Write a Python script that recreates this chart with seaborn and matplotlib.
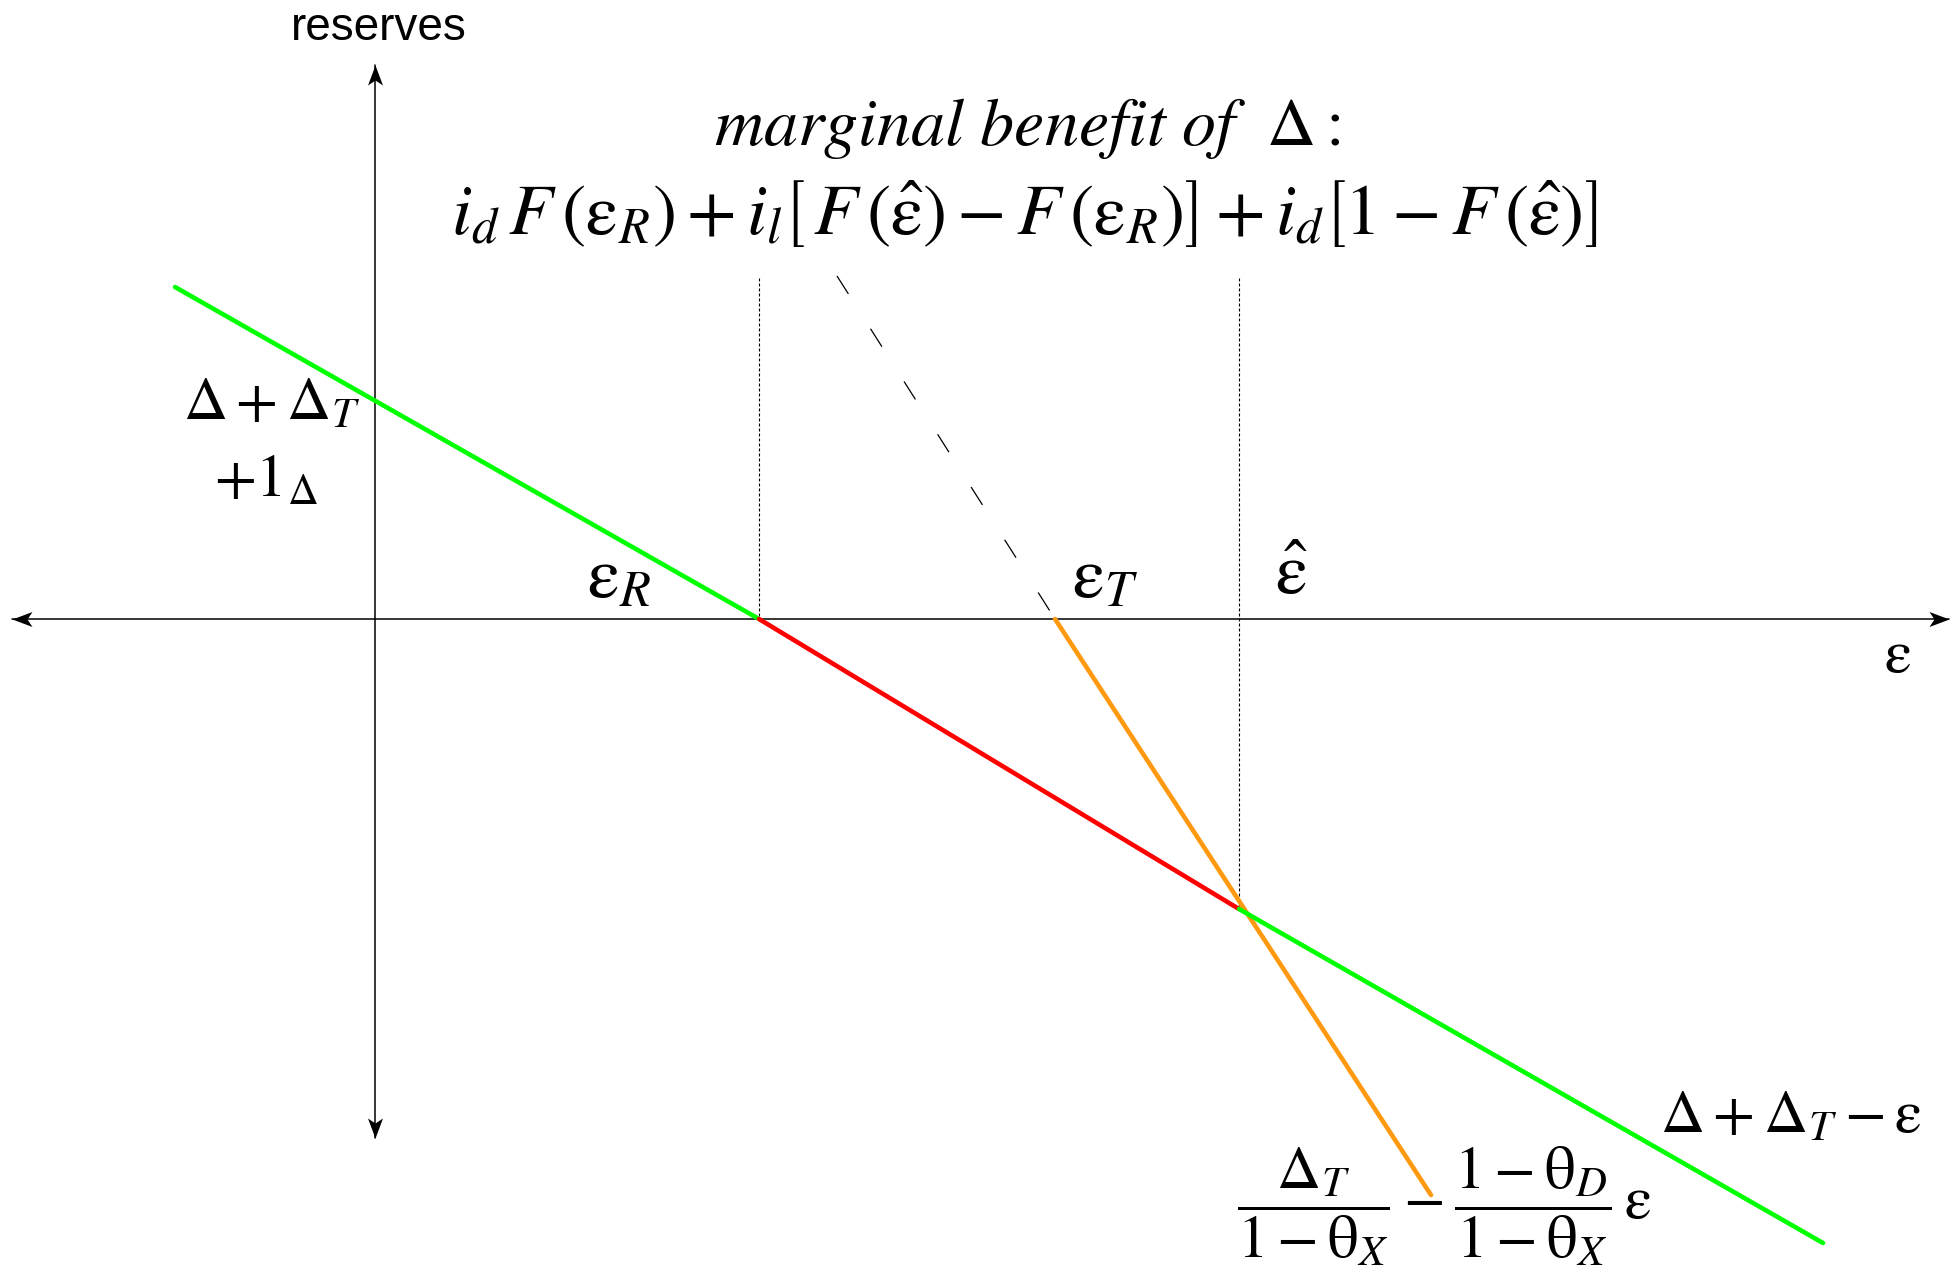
import matplotlib
matplotlib.use("Agg")
import matplotlib.pyplot as plt
from matplotlib.markers import MarkerStyle
from matplotlib.transforms import Affine2D
import pandas as pd
import seaborn as sns

# threshold shocks on the epsilon axis
eps_R = 3.84
eps_T = 6.80
eps_hat = 8.64

# reserves schedule, broken at eps_R and eps_hat
sched_eps = [-2.00, eps_R, eps_R, eps_hat, eps_hat, 14.48]
sched_res = [3.32, 0.0, 0.0, -2.90, -2.90, -6.24]
sched_seg = ["low", "low", "mid", "mid", "high", "high"]
seg_colors = {"low": "#00ff00", "mid": "#ff0000", "high": "#00ff00"}

# Delta_T/(1-theta_X) - (1-theta_D)/(1-theta_X) eps, below the axis
tax_eps = [eps_T, 10.56]
tax_res = [0.0, -5.76]
# its continuation above the axis
ext_eps = [4.62, eps_T]
ext_res = [3.43, 0.0]

# vertical guides at eps_R and eps_hat
guide_eps = [eps_R, eps_hat]
guide_top = 3.41
guide_bottom = [0.0, -2.90]

# axis extents
x_axis = [-3.63, 15.74]
y_axis = [-5.19, 5.54]

sns.set_theme(style="white")
plt.rcParams["mathtext.fontset"] = "stix"
plt.rcParams["font.family"] = ["DejaVu Sans"]

fig = plt.figure(figsize=(19.5, 12.8), dpi=100)
ax = fig.add_axes([0, 0, 1, 1])
ax.set_xlim(-3.75, 15.75)
ax.set_ylim(-6.61, 6.19)
ax.axis("off")

# axes with notched arrow heads
ax.plot(x_axis, [0, 0], color="black", lw=1.1, zorder=1)
ax.plot([0, 0], y_axis, color="black", lw=1.1, zorder=1)
head = [(0, 0), (-4, 1.5), (-3, 0), (-4, -1.5), (0, 0)]
for (hx, hy), ang in [((x_axis[1], 0), 0), ((x_axis[0], 0), 180),
                      ((0, y_axis[1]), 90), ((0, y_axis[0]), 270)]:
    m = MarkerStyle(head, transform=Affine2D().rotate_deg(ang))
    ax.plot([hx], [hy], marker=m, ms=28.8, color="black", mew=0, zorder=2)

# vertical guides
for ge, gb in zip(guide_eps, guide_bottom):
    ax.plot([ge, ge], [guide_top, gb], color="black", lw=0.8,
            linestyle=(0, (2.7, 1.8)), zorder=1)

# dashed continuation of the steep schedule
sns.lineplot(x=ext_eps, y=ext_res, ax=ax, color="black", lw=0.9,
             linestyle=(0, (17, 33)), sort=False, estimator=None, zorder=1)

# reserves schedule segments
sched = pd.DataFrame({"eps": sched_eps, "reserves": sched_res, "seg": sched_seg})
sns.lineplot(data=sched, x="eps", y="reserves", hue="seg", palette=seg_colors,
             sort=False, estimator=None, legend=False, lw=3.3, ax=ax, zorder=3)
sns.lineplot(x=tax_eps, y=tax_res, ax=ax, color="#ff9a10", lw=3.3,
             sort=False, estimator=None, zorder=2)

ax.set_xlim(-3.75, 15.75)
ax.set_ylim(-6.61, 6.19)

fs = 44
ax.text(0.04, 5.91, "reserves", family=["Liberation Sans"], fontsize=33,
        ha="center", va="center", color="black")
ax.text(6.52, 4.91, r"$\mathit{marginal\ benefit\ of}\ \ \mathrm{\Delta}:$",
        fontsize=49, ha="center", va="center", color="black")
formula = (r"$i_d\,F\,\left(\mathrm{\varepsilon}_R\right)+i_l\left[\,F\,\left(\hat{\mathrm{\varepsilon}}\right)"
           r"-F\,\left(\mathrm{\varepsilon}_R\right)\right]+i_d\left[1-F\,\left(\hat{\mathrm{\varepsilon}}\right)\right]$")
ax.text(6.49, 4.05, formula, fontsize=52, ha="center", va="center", color="black")

ax.text(-1.92, 1.99, r"$\mathrm{\Delta}+\mathrm{\Delta}_T$", fontsize=fs,
        ha="left", va="baseline", color="black")
ax.text(-1.61, 1.22, r"$+1_{\mathrm{\Delta}}$", fontsize=fs,
        ha="left", va="baseline", color="black")

fs_eps = 52
ax.text(2.12, 0.22, r"$\mathrm{\varepsilon}_R$", fontsize=fs_eps, ha="left", va="baseline", color="black")
ax.text(6.97, 0.22, r"$\mathrm{\varepsilon}_T$", fontsize=fs_eps, ha="left", va="baseline", color="black")
ax.text(9.00, 0.25, r"$\hat{\mathrm{\varepsilon}}$", fontsize=fs_eps, ha="left", va="baseline", color="black")
ax.text(15.09, -0.53, r"$\mathrm{\varepsilon}$", fontsize=44, ha="left", va="baseline", color="black")

ax.text(12.85, -5.14, r"$\mathrm{\Delta}+\mathrm{\Delta}_T-\mathrm{\varepsilon}$", fontsize=fs,
        ha="left", va="baseline", color="black")
ax.text(8.62, -6.00,
        r"$\dfrac{\mathrm{\Delta}_T}{1-\mathrm{\theta}_X}-\dfrac{1-\mathrm{\theta}_D}{1-\mathrm{\theta}_X}\,\mathrm{\varepsilon}$",
        fontsize=fs, ha="left", va="baseline", color="black")

fig.savefig("out.png", dpi=100, facecolor="white")
